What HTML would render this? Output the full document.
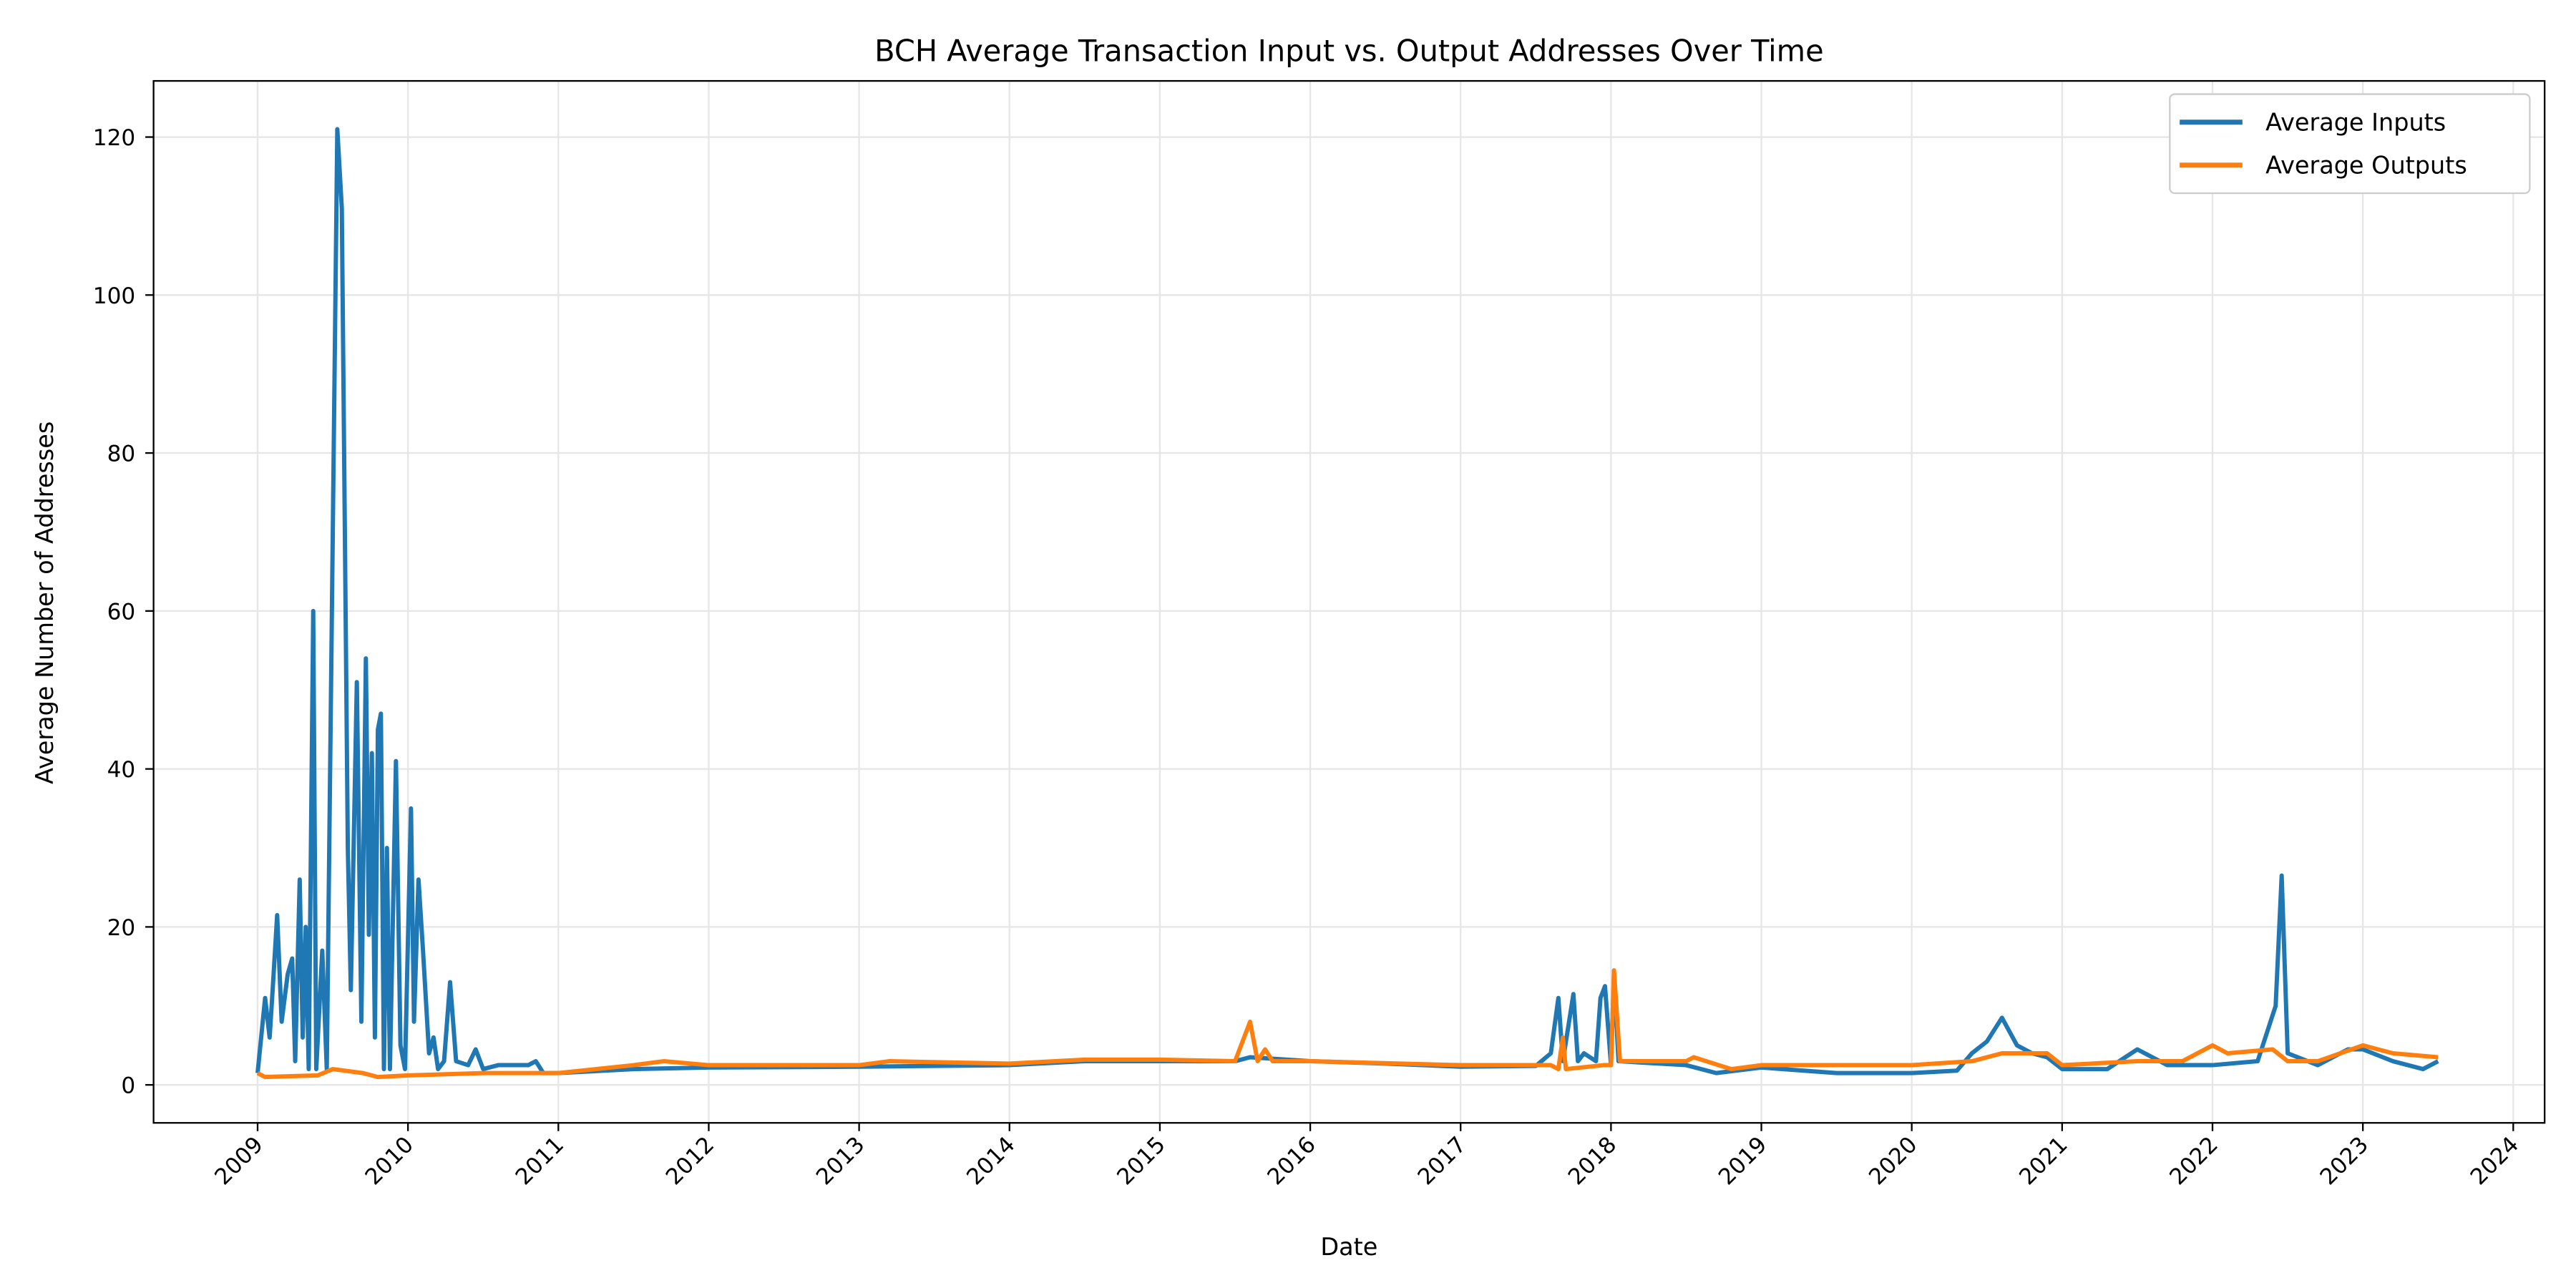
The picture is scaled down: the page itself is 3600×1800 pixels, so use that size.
<!DOCTYPE html>
<html><head><meta charset="utf-8"><style>
html,body{margin:0;padding:0;background:#fff}
svg{display:block;font-family:"DejaVu Sans","Liberation Sans",sans-serif}
</style></head><body>
<svg id="chart" width="3600" height="1800" viewBox="0 0 1560 780" xmlns="http://www.w3.org/2000/svg">
<rect x="0" y="0" width="1560" height="780" fill="#fff"/>
<g id="grid"></g>
<g id="series"></g>
<rect x="93" y="49" width="1448" height="631" fill="none" stroke="#000" stroke-width="1"/>
<g id="axes"></g>
<text x="817" y="37" font-size="18" text-anchor="middle">BCH Average  Transaction Input vs. Output Addresses Over Time</text>
<text x="817" y="760" font-size="14.5" text-anchor="middle">Date</text>
<text transform="translate(32,365) rotate(-90)" font-size="14.5" text-anchor="middle">Average Number of Addresses</text>
<g>
<rect x="1314" y="57" width="218" height="60" rx="3" fill="#fff" stroke="#ccc"/>
<line x1="1320" y1="74" x2="1358" y2="74" stroke="#1f77b4" stroke-width="3"/>
<text x="1372" y="79" font-size="14.5">Average Inputs</text>
<line x1="1320" y1="100" x2="1358" y2="100" stroke="#ff7f0e" stroke-width="3"/>
<text x="1372" y="105" font-size="14.5">Average Outputs</text>
</g>
</svg>
<script>
const xTicks=[2009,2010,2011,2012,2013,2014,2015,2016,2017,2018,2019,2020,2021,2022,2023,2024];
const yTicks=[0,20,40,60,80,100,120];
const inputDates=[2009.0,2009.05,2009.08,2009.1,2009.13,2009.16,2009.2,2009.23,2009.25,2009.28,2009.3,2009.32,2009.34,2009.37,2009.39,2009.43,2009.46,2009.53,2009.56,2009.6,2009.62,2009.66,2009.69,2009.72,2009.74,2009.76,2009.78,2009.8,2009.82,2009.84,2009.86,2009.88,2009.92,2009.95,2009.98,2010.02,2010.04,2010.07,2010.1,2010.14,2010.17,2010.2,2010.24,2010.28,2010.32,2010.4,2010.45,2010.5,2010.6,2010.8,2010.85,2010.9,2011,2011.5,2012,2013,2014,2014.5,2015,2015.5,2015.6,2016,2016.5,2017,2017.5,2017.6,2017.65,2017.68,2017.75,2017.78,2017.82,2017.9,2017.93,2017.96,2018.0,2018.02,2018.05,2018.5,2018.7,2019,2019.5,2020,2020.3,2020.4,2020.5,2020.6,2020.7,2020.8,2020.9,2021,2021.3,2021.5,2021.7,2022,2022.3,2022.42,2022.46,2022.5,2022.7,2022.9,2023,2023.2,2023.4,2023.5];
const inputValues=[1.5,11,6,12,21.5,8,14,16,3,26,6,20,2,60,2,17,2,121,111,30,12,51,8,54,19,42,6,45,47,2,30,2,41,5,2,35,8,26,17,4,6,2,3,13,3,2.5,4.5,2,2.5,2.5,3,1.5,1.5,2,2.2,2.3,2.5,3,3,3,3.5,3,2.7,2.3,2.4,4,11,3,11.5,3,4,3,11,12.5,2.5,14,3,2.5,1.5,2.2,1.5,1.5,1.8,4,5.5,8.5,5,4,3.5,2,2,4.5,2.5,2.5,3,10,26.5,4,2.5,4.5,4.5,3,2,3];
const outputDates=[2009,2009.05,2009.4,2009.5,2009.7,2009.8,2010,2010.5,2011,2011.5,2011.7,2012,2013,2013.2,2014,2014.5,2015,2015.5,2015.55,2015.6,2015.65,2015.7,2015.75,2016,2017,2017.6,2017.65,2017.68,2017.7,2017.95,2018.0,2018.02,2018.06,2018.5,2018.55,2018.8,2019,2019.5,2020,2020.4,2020.6,2020.9,2021,2021.5,2021.8,2022,2022.1,2022.4,2022.5,2022.7,2023,2023.2,2023.5];
const outputValues=[1.5,1,1.2,2,1.5,1,1.2,1.5,1.5,2.5,3,2.5,2.5,3,2.7,3.2,3.2,3,5.5,8,3,4.5,3,3,2.5,2.5,2,6,2,2.5,2.5,14.5,3,3,3.5,2,2.5,2.5,2.5,3,4,4,2.5,3,3,5,4,4.5,3,3,5,4,3.5];
const NS="http://www.w3.org/2000/svg";
const X=d=>156+(d-2009)*(1522-156)/15;
const Y=v=>657-v*(657-83)/120;
function mk(tag,attrs,parent){const e=document.createElementNS(NS,tag);for(const k in attrs)e.setAttribute(k,attrs[k]);parent.appendChild(e);return e;}
const grid=document.getElementById('grid'),axes=document.getElementById('axes'),series=document.getElementById('series');
xTicks.forEach(t=>{const x=X(t);
const g=mk('line',{x1:x,x2:x,y1:49,y2:680,stroke:'#e6e6e6','stroke-width':1},grid);


const tk=mk('line',{x1:x,x2:x,y1:680,y2:685,stroke:'#000'},axes);


const tx=mk('text',{transform:`translate(${x+4},${694}) rotate(-45)`,'font-size':13.5,'text-anchor':'end'},axes);
tx.textContent=t;


});
yTicks.forEach(t=>{const y=Y(t);
const g=mk('line',{x1:93,x2:1541,y1:y,y2:y,stroke:'#e6e6e6','stroke-width':1},grid);


const tk=mk('line',{x1:88,x2:93,y1:y,y2:y,stroke:'#000'},axes);


const tx=mk('text',{x:82,y:y+5,'font-size':13.5,'text-anchor':'end'},axes);
tx.textContent=t;


});
function line(ds,vs,color,name){
const d=ds.map((t,i)=>(i?'L':'M')+X(t).toFixed(2)+','+Y(vs[i]).toFixed(2)).join('');
const p=mk('path',{d:d,fill:'none',stroke:color,'stroke-width':2.6,'stroke-linejoin':'round'},series);


}
line(inputDates,inputValues,'#1f77b4','inputs-line');
line(outputDates,outputValues,'#ff7f0e','outputs-line');
</script>
</body></html>
